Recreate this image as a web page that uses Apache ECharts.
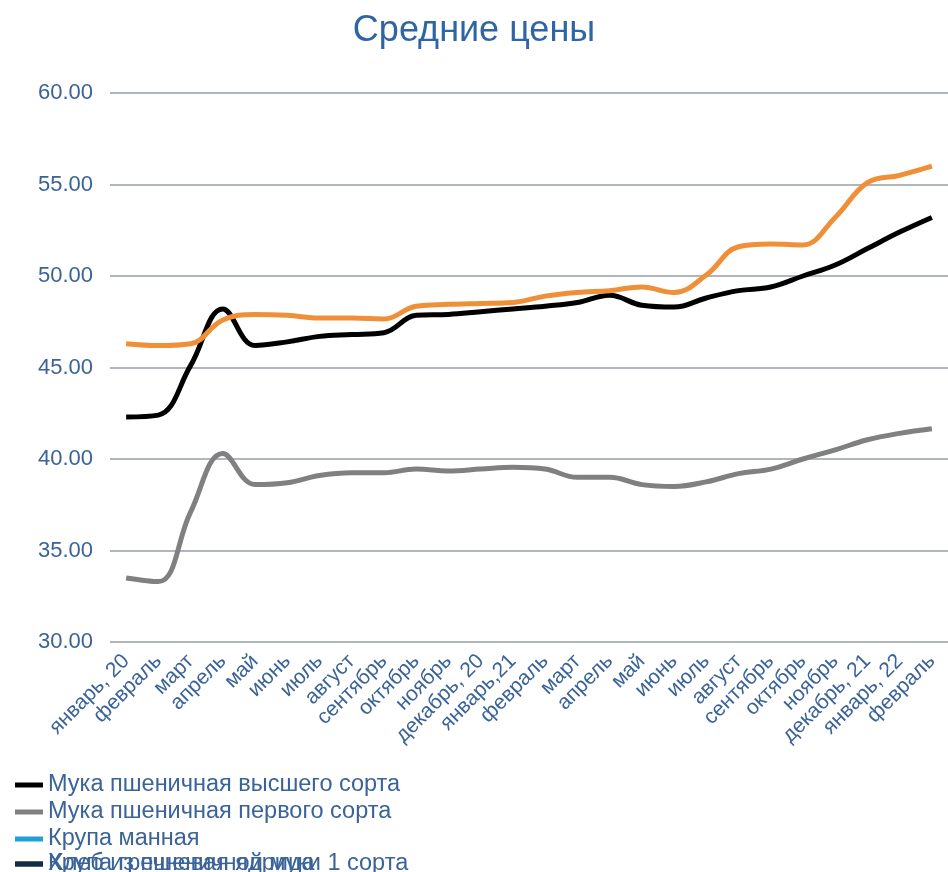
<!DOCTYPE html>
<html>
<head>
<meta charset="utf-8">
<script src="https://cdn.jsdelivr.net/npm/echarts@6/dist/echarts.min.js"></script>
<style>
  html, body { margin: 0; padding: 0; background: #fff; }
  #chart { width: 948px; height: 872px; }
</style>
</head>
<body>
<div id="chart"></div>
<script>
// categories (months)
var months = ['январь, 20', 'февраль', 'март', 'апрель', 'май', 'июнь', 'июль', 'август',
  'сентябрь', 'октябрь', 'ноябрь', 'декабрь, 20', 'январь,21', 'февраль', 'март', 'апрель',
  'май', 'июнь', 'июль', 'август', 'сентябрь', 'октябрь', 'ноябрь', 'декабрь, 21',
  'январь, 22', 'февраль'];

// average prices
var flourTop = [42.3, 42.4, 45.1, 48.2, 46.2, 46.4, 46.7, 46.8, 46.9, 47.85, 47.9, 48.05, 48.2,
  48.35, 48.55, 48.95, 48.4, 48.3, 48.8, 49.2, 49.4, 50.0, 50.6, 51.5, 52.4, 53.2];
var flourFirst = [33.5, 33.3, 37.1, 40.3, 38.6, 38.7, 39.1, 39.25, 39.25, 39.45, 39.35, 39.45, 39.55,
  39.45, 39.0, 39.0, 38.6, 38.5, 38.75, 39.2, 39.45, 40.0, 40.5, 41.05, 41.4, 41.65];
var buckwheat = [46.3, 46.2, 46.3, 47.6, 47.9, 47.85, 47.7, 47.7, 47.65, 48.35, 48.45, 48.5, 48.55,
  48.9, 49.1, 49.2, 49.4, 49.1, 50.05, 51.6, 51.75, 51.7, 53.2, 55.1, 55.5, 56.0];
var semolina = [];
var bread = [];

var yTicks = [30, 35, 40, 45, 50, 55, 60];

var textBlue = '#3a6399';
var legendText = { color: textBlue, fontSize: 23.5, lineHeight: 24, fontFamily: 'Liberation Sans' };
var myChart = echarts.init(document.getElementById('chart'));

function lineSeries(name, data, color) {
  return {
    name: name,
    type: 'line',
    data: data,
    smooth: 0.4,
    symbol: 'none',
    lineStyle: { width: 5, color: color },
    itemStyle: { color: color }
  };
}

function oneRowLegend(top, name, color) {
  return {
    orient: 'vertical',
    left: 10,
    top: top,
    icon: 'rect',
    itemWidth: 28,
    itemHeight: 5,
    itemGap: 3,
    textStyle: legendText,
    data: [{ name: name, itemStyle: { color: color } }]
  };
}

myChart.setOption({
  animation: false,
  title: {
    text: 'Средние цены',
    left: 'center',
    top: 8,
    textStyle: { color: '#2f64a5', fontSize: 36, fontWeight: 'normal', fontFamily: 'Liberation Sans' }
  },
  legend: [{
    orient: 'vertical',
    left: 10,
    top: 768,
    icon: 'rect',
    itemWidth: 28,
    itemHeight: 5,
    itemGap: 3,
    textStyle: legendText,
    data: [
      { name: 'Мука пшеничная высшего сорта', itemStyle: { color: '#000000' } },
      { name: 'Мука пшеничная первого сорта', itemStyle: { color: '#808080' } },
      { name: 'Крупа манная', itemStyle: { color: '#1fa0d8' } }
    ]
  },
  oneRowLegend(847, 'Крупа гречневая ядрица', '#132c44'),
  oneRowLegend(847, 'Хлеб из пшеничной муки 1 сорта', '#132c44')],
  grid: { left: 110, right: 0, top: 93, bottom: 230, containLabel: false },
  xAxis: {
    type: 'category',
    data: months,
    boundaryGap: true,
    axisLine: { show: false },
    axisTick: { show: false },
    axisLabel: {
      interval: 0,
      rotate: 45,
      margin: 16,
      color: textBlue,
      fontSize: 21,
      fontFamily: 'Liberation Sans'
    }
  },
  yAxis: {
    type: 'value',
    min: yTicks[0],
    max: yTicks[yTicks.length - 1],
    interval: 5,
    axisLine: { show: false },
    axisTick: { show: false },
    axisLabel: {
      margin: 17,
      color: textBlue,
      fontSize: 22,
      fontFamily: 'Liberation Sans',
      formatter: function (val) { return val.toFixed(2); }
    },
    splitLine: { lineStyle: { color: '#b0b5be', width: 2 } }
  },
  series: [
    lineSeries('Мука пшеничная высшего сорта', flourTop, '#000000'),
    lineSeries('Мука пшеничная первого сорта', flourFirst, '#808080'),
    lineSeries('Крупа манная', semolina, '#1fa0d8'),
    lineSeries('Крупа гречневая ядрица', buckwheat, '#ef9038'),
    lineSeries('Хлеб из пшеничной муки 1 сорта', bread, '#132c44')
  ]
});
</script>
</body>
</html>
